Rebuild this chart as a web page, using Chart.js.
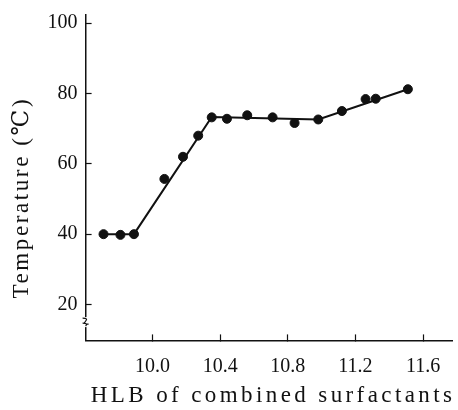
<!DOCTYPE html>
<html>
<head>
<meta charset="utf-8">
<script src="https://cdn.jsdelivr.net/npm/chart.js@4/dist/chart.umd.min.js"></script>
<style>
  html, body { margin: 0; padding: 0; background: #fff; }
  #wrap { width: 458px; height: 410px; }
</style>
</head>
<body>
<div id="wrap"><canvas id="chart" width="458" height="410"></canvas></div>
<script>
// ---- data ----
const hlbPoints  = [9.71, 9.81, 9.89, 10.07, 10.18, 10.27, 10.35, 10.44, 10.56, 10.71, 10.84, 10.98, 11.12, 11.26, 11.32, 11.51];
const tempPoints = [40.0, 39.8, 40.0, 55.7, 62.0, 68.0, 73.2, 72.8, 73.8, 73.2, 71.6, 72.6, 75.0, 78.4, 78.5, 81.2];

// hand-drawn fit line (break points)
const fitHlb  = [9.71, 9.89, 10.35, 10.98, 11.51];
const fitTemp = [40.0, 40.0, 73.3, 72.6, 81.2];

const xTicks = [10.0, 10.4, 10.8, 11.2, 11.6];
const yTicks = [20, 40, 60, 80, 100];

const FONT = "'Liberation Serif', 'DejaVu Serif', serif";
const INK = "#111";

// small zig-zag break on the y axis, below the 20 tick
const axisBreak = {
  id: "axisBreak",
  afterDraw(chart) {
    const ctx = chart.ctx;
    const x = chart.scales.x.left;
    const y = chart.scales.y.getPixelForValue(15);
    ctx.save();
    ctx.fillStyle = "#fff";
    ctx.fillRect(x - 3, y - 5, 6, 10);
    ctx.strokeStyle = INK;
    ctx.lineWidth = 1.2;
    ctx.beginPath();
    ctx.moveTo(x - 3, y - 4);
    ctx.quadraticCurveTo(x + 3, y - 4, x, y - 1);
    ctx.quadraticCurveTo(x - 3, y + 2, x + 3, y + 2);
    ctx.moveTo(x - 3, y + 1);
    ctx.quadraticCurveTo(x + 3, y + 1, x, y + 4);
    ctx.stroke();
    ctx.restore();
  }
};

// wide letter spacing on the axis titles, like the printed figure
const spacedTitles = {
  id: "spacedTitles",
  beforeDraw(chart) {
    Object.values(chart.scales).forEach(s => {
      if (s._spaced) return;
      const orig = s.drawTitle;
      s.drawTitle = function () {
        const ctx = this.ctx;
        ctx.save();
        if (this.isHorizontal()) {
          ctx.letterSpacing = "3.4px";
          ctx.translate(4, 0);
        } else {
          // the printed y title sits a bit below the middle of the axis
          ctx.letterSpacing = "2.6px";
          ctx.translate(0, 20);
        }
        orig.apply(this, arguments);
        ctx.restore();
      };
      s._spaced = true;
    });
  }
};

const chart = new Chart(document.getElementById("chart"), {
  type: "scatter",
  data: {
    datasets: [
      {
        label: "fit",
        data: fitHlb.map((x, i) => ({ x, y: fitTemp[i] })),
        showLine: true,
        borderColor: INK,
        borderWidth: 2,
        pointRadius: 0,
        fill: false
      },
      {
        label: "measured",
        data: hlbPoints.map((x, i) => ({ x, y: tempPoints[i] })),
        backgroundColor: INK,
        borderColor: INK,
        pointRadius: 4.5,
        pointHoverRadius: 4.5
      }
    ]
  },
  options: {
    responsive: false,
    animation: false,
    layout: { padding: { top: 15, right: 1, left: 6, bottom: 0 } },
    plugins: { legend: { display: false }, tooltip: { enabled: false } },
    scales: {
      x: {
        type: "linear",
        min: 9.604,
        max: 11.774,
        afterBuildTicks: s => { s.ticks = xTicks.map(v => ({ value: v })); },
        afterFit: s => { s.paddingRight = 0; },
        ticks: {
          color: INK,
          padding: 20,
          font: { family: FONT, size: 20 },
          callback: v => v.toFixed(1)
        },
        grid: { drawOnChartArea: false, tickLength: -6, color: INK, tickWidth: 1.2 },
        border: { color: INK, width: 1.5 },
        title: {
          display: true,
          text: "HLB of combined surfactants",
          color: INK,
          font: { family: FONT, size: 23 },
          padding: { top: -16, bottom: 0 }
        }
      },
      y: {
        type: "linear",
        min: 9.8,
        max: 102.3,
        afterBuildTicks: s => { s.ticks = yTicks.map(v => ({ value: v })); },
        // the top label has room above it already, so no extra padding there
        afterFit: s => { s.paddingTop = 0; },
        ticks: {
          color: INK,
          padding: 14,
          font: { family: FONT, size: 20 }
        },
        grid: { drawOnChartArea: false, tickLength: -6, color: INK, tickWidth: 1.2 },
        border: { color: INK, width: 1.5 },
        title: {
          display: true,
          text: "Temperature (℃)",
          color: INK,
          font: { family: FONT, size: 23 },
          padding: { top: 2, bottom: -2 }
        }
      }
    }
  },
  plugins: [spacedTitles, axisBreak]
});
chart.draw();
</script>
</body>
</html>
